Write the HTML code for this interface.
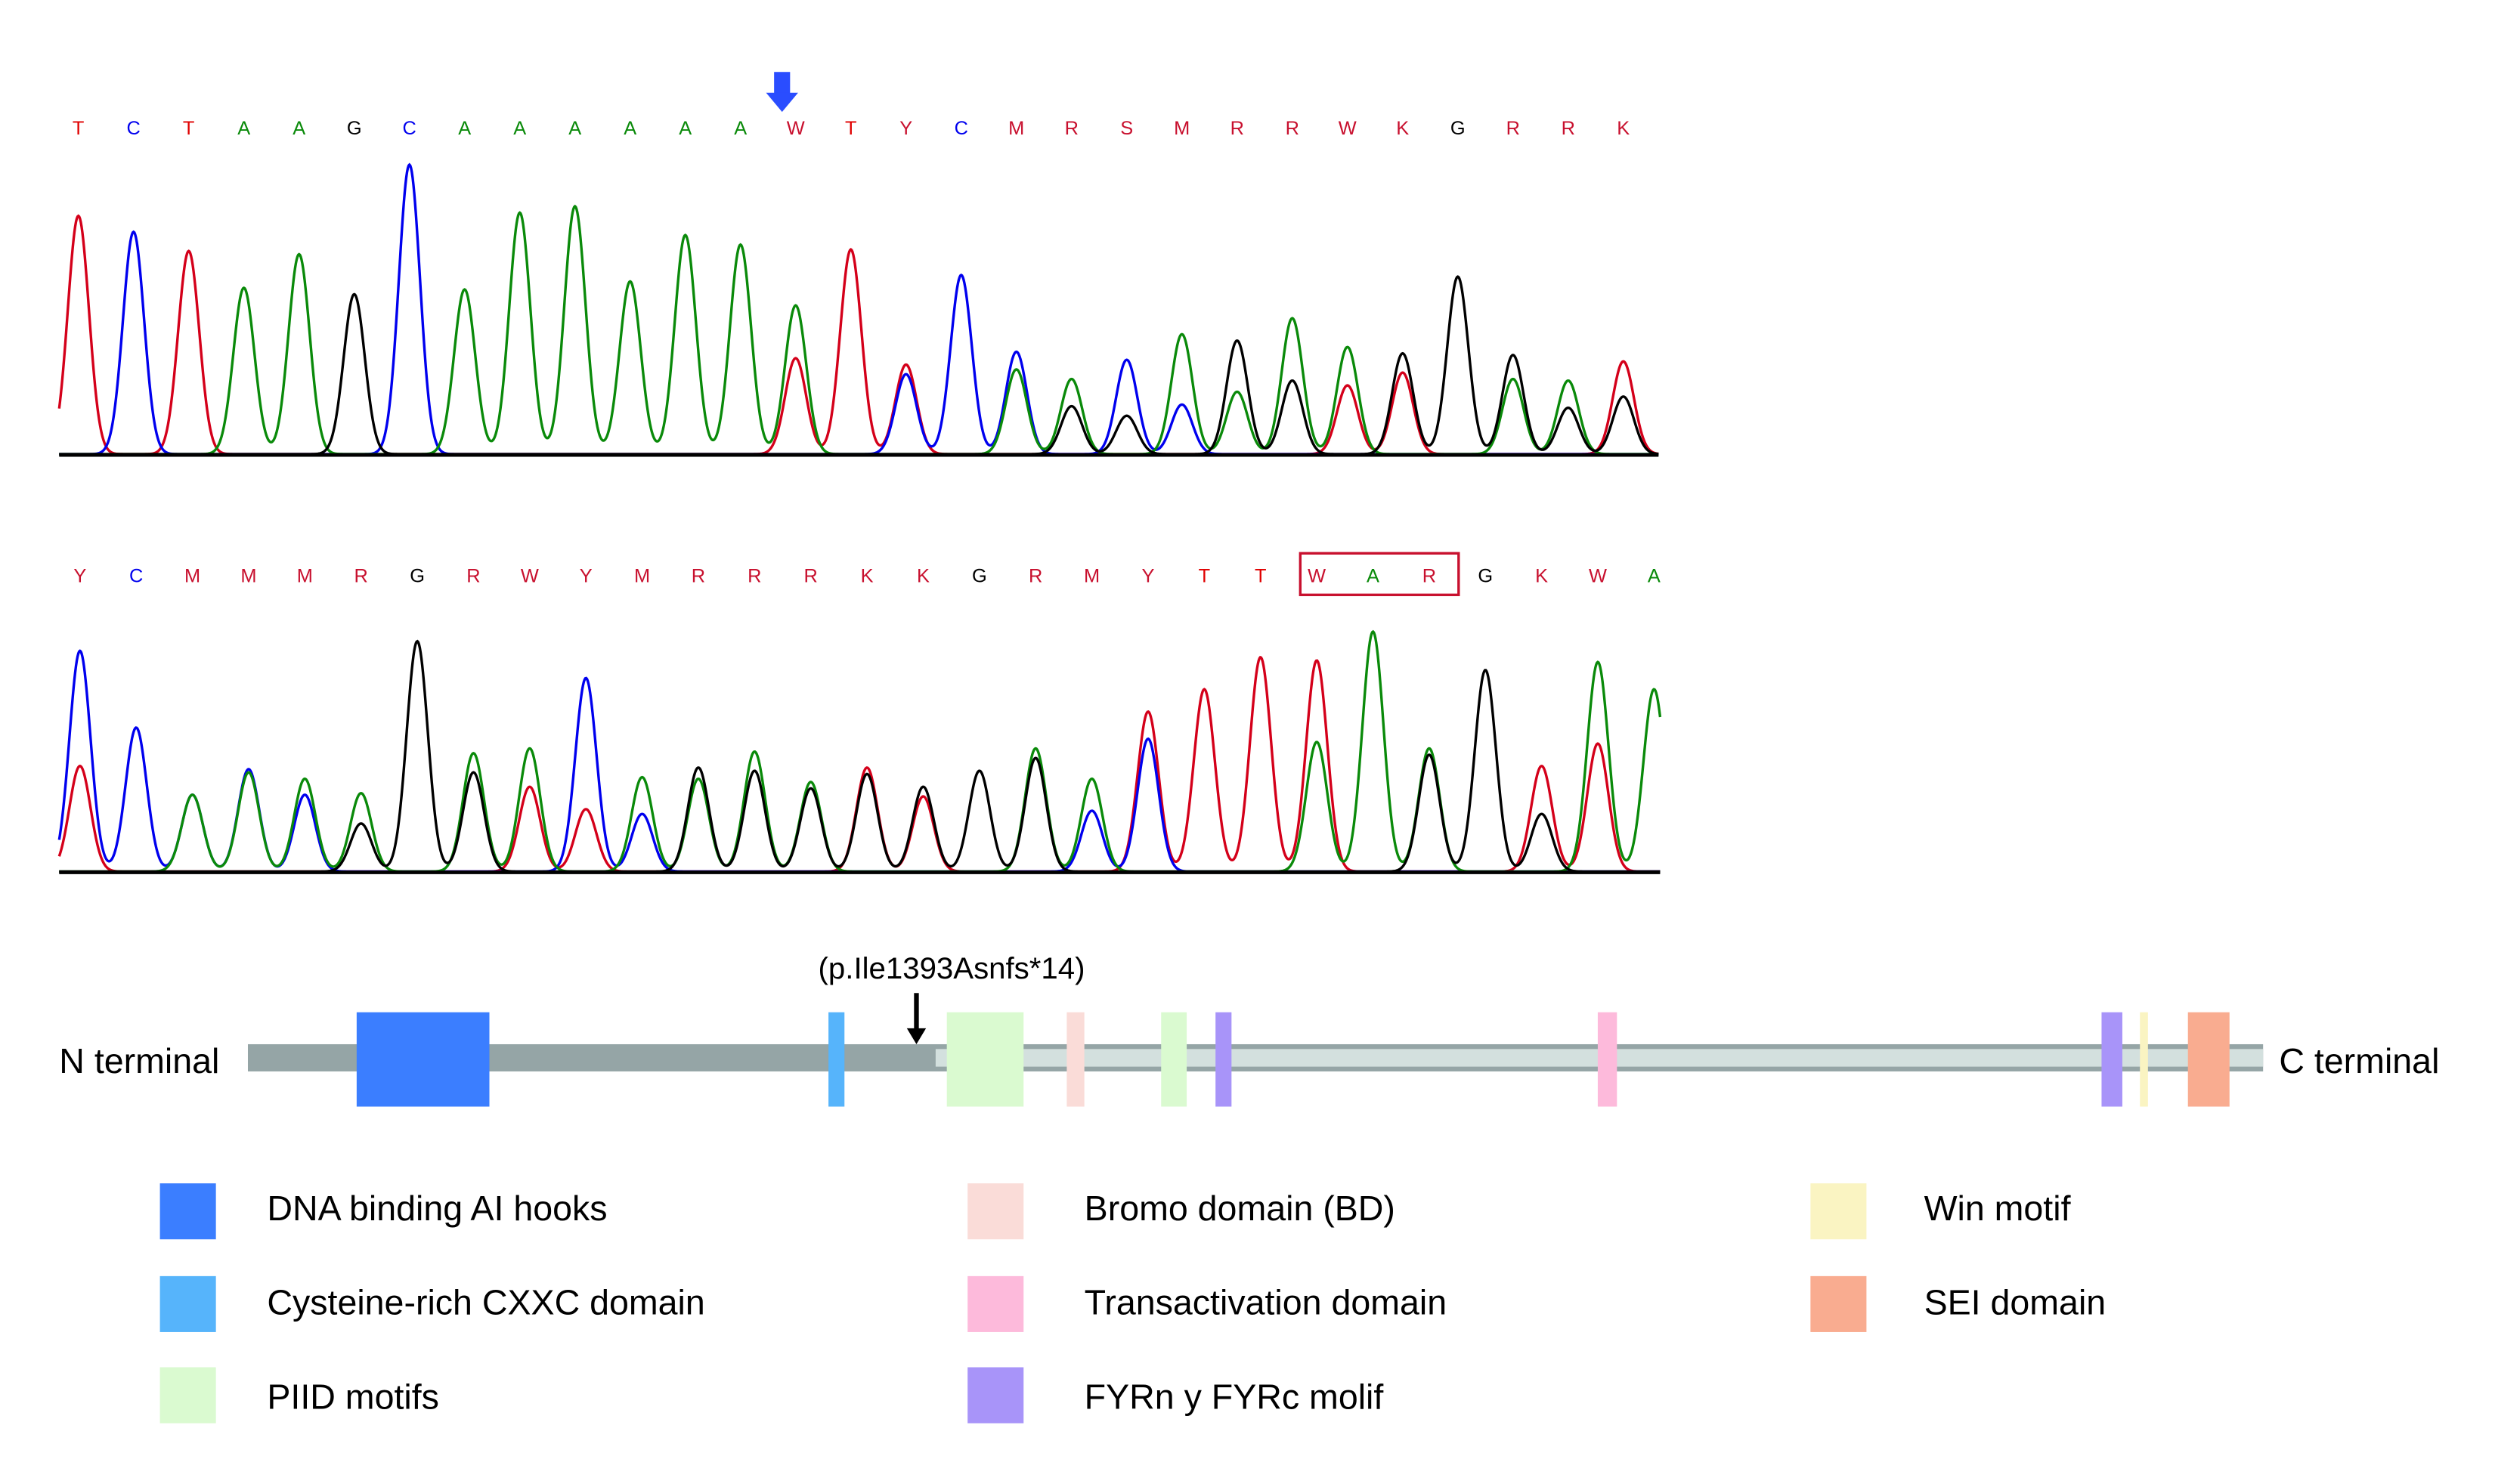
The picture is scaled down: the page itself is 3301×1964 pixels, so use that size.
<!DOCTYPE html>
<html><head><meta charset="utf-8"><style>
html,body{margin:0;padding:0;background:#fff;}
svg{display:block;font-family:"Liberation Sans",Arial,sans-serif;}
</style></head><body>
<svg id="fig" width="3301" height="1964" viewBox="0 0 1560 928" preserveAspectRatio="none" xmlns="http://www.w3.org/2000/svg">
<rect width="1560" height="928" fill="#fff"/>
<g id="top"></g>
<g id="bot"></g>
<g>
<rect x="484" y="45" width="10" height="14" fill="#2a4dff"/>
<polygon points="479,58 499,58 489,70" fill="#2a4dff"/>
</g>
<rect x="813" y="346" width="99" height="26" fill="none" stroke="#c8102e" stroke-width="1.6"/>
<g id="protein">
<rect x="155" y="653" width="1260" height="17" fill="#95a5a6"/>
<rect x="585" y="656" width="830" height="11" fill="#d3e0de"/>
<rect x="223" y="633" width="83" height="59" fill="#3b7eff"/>
<rect x="518" y="633" width="10" height="59" fill="#56b4fb"/>
<rect x="592" y="633" width="48" height="59" fill="#dafad0"/>
<rect x="667" y="633" width="11" height="59" fill="#fadcd8"/>
<rect x="726" y="633" width="16" height="59" fill="#dafad0"/>
<rect x="760" y="633" width="10" height="59" fill="#a894f9"/>
<rect x="999" y="633" width="12" height="59" fill="#fdbadb"/>
<rect x="1314" y="633" width="13" height="59" fill="#a894f9"/>
<rect x="1338" y="633" width="5" height="59" fill="#faf4c2"/>
<rect x="1368" y="633" width="26" height="59" fill="#f9ac90"/>
<line x1="573" y1="621" x2="573" y2="645" stroke="#000" stroke-width="3"/>
<polygon points="567,643 579,643 573,653" fill="#000"/>
<text x="595" y="612" font-size="19" text-anchor="middle">(p.Ile1393Asnfs*14)</text>
<text x="37" y="671" font-size="22">N terminal</text>
<text x="1425" y="671" font-size="22">C terminal</text>
</g>
<g font-size="22">
<rect x="100" y="740" width="35" height="35" fill="#3b7eff"/>
<text x="167" y="763">DNA binding  AI hooks</text>
<rect x="100" y="798" width="35" height="35" fill="#56b4fb"/>
<text x="167" y="822">Cysteine-rich CXXC domain</text>
<rect x="100" y="855" width="35" height="35" fill="#dafad0"/>
<text x="167" y="881">PIID motifs</text>
<rect x="605" y="740" width="35" height="35" fill="#fadcd8"/>
<text x="678" y="763">Bromo domain (BD)</text>
<rect x="605" y="798" width="35" height="35" fill="#fdbadb"/>
<text x="678" y="822">Transactivation domain</text>
<rect x="605" y="855" width="35" height="35" fill="#a894f9"/>
<text x="678" y="881">FYRn y FYRc molif</text>
<rect x="1132" y="740" width="35" height="35" fill="#faf4c2"/>
<text x="1203" y="763">Win motif</text>
<rect x="1132" y="798" width="35" height="35" fill="#f9ac90"/>
<text x="1203" y="822">SEI domain</text>
</g>
</svg>
<script>
const topBases = "TCTAAGCAAAAAAWTYCMRSMRRWKGRRK".split("");
const topT = [149,0,127,0,0,0,0,0,0,0,0,0,0,60,128,56,0,0,0,0,0,0,0,43,51,0,0,0,58];
const topC = [0,139,0,0,0,0,181,0,0,0,0,0,0,0,0,50,112,64,0,59,31,0,0,0,0,0,0,0,0];
const topA = [0,0,0,104,125,0,0,103,151,155,108,137,131,93,0,0,0,53,47,0,75,39,85,67,0,0,47,46,0];
const topG = [0,0,0,0,0,100,0,0,0,0,0,0,0,0,0,0,0,0,30,24,0,71,46,0,63,111,62,29,36];
const botBases = "YCMMMRGRWYMRRRKKGRMYTTWARGKWA".split("");
const botT = [66,0,0,0,0,0,0,0,53,39,0,0,0,0,65,47,0,0,0,100,114,134,132,0,0,0,66,80,0];
const botC = [138,90,48,64,48,0,0,0,0,121,36,0,0,0,0,0,0,0,38,83,0,0,0,0,0,0,0,0,0];
const botA = [0,0,48,62,58,49,0,74,77,0,59,58,75,56,0,0,0,77,58,0,0,0,81,150,77,0,0,131,114];
const botG = [0,0,0,0,0,30,144,62,0,0,0,65,63,52,61,53,63,71,0,0,0,0,0,0,73,126,36,0,0];

const NS="http://www.w3.org/2000/svg";
const colorOf={A:"#0a8a0a",C:"#0000ee",G:"#000",T:"#d4001a"};
const letterColor=b=>({A:"#0a8a0a",C:"#0000ee",G:"#000",T:"#e00000"})[b]||"#c8102e";
function draw(gid,bases,ch,x0,step,baseY,letterY,xMin,xMax){
  const g=document.getElementById(gid);
  const xs=i=>x0+i*step, ys=v=>baseY-v, sig=6.6;
  bases.forEach((b,i)=>{
    const t=document.createElementNS(NS,"text");
    
    
    t.setAttribute("x",xs(i));t.setAttribute("y",letterY);
    t.setAttribute("font-size","12");t.setAttribute("text-anchor","middle");
    t.setAttribute("fill",letterColor(b));t.textContent=b;g.appendChild(t);
  });
  [["T",ch.T],["C",ch.C],["A",ch.A],["G",ch.G]].forEach(([k,arr])=>{
    let d="";
    for(let x=xMin;x<=xMax;x+=0.5){
      let v=0;arr.forEach((h,i)=>{if(h>0){const dx=x-xs(i);v+=h*Math.exp(-dx*dx/(2*sig*sig));}});
      d+=(d?"L":"M")+x.toFixed(1)+","+ys(v).toFixed(2);
    }
    const p=document.createElementNS(NS,"path");
    
    
    p.setAttribute("d",d);p.setAttribute("fill","none");p.setAttribute("stroke",colorOf[k]);p.setAttribute("stroke-width","1.6");
    g.appendChild(p);
  });
  const l=document.createElementNS(NS,"line");
  
  
  l.setAttribute("x1",xMin);l.setAttribute("x2",xMax);l.setAttribute("y1",baseY+0.5);l.setAttribute("y2",baseY+0.5);
  l.setAttribute("stroke","#000");l.setAttribute("stroke-width","2.2");g.appendChild(l);
}
draw("top",topBases,{T:topT,C:topC,A:topA,G:topG},49,34.5,284,84,37,1037);
draw("bot",botBases,{T:botT,C:botC,A:botA,G:botG},50,35.15,545,364,37,1038);
</script>
</body></html>
